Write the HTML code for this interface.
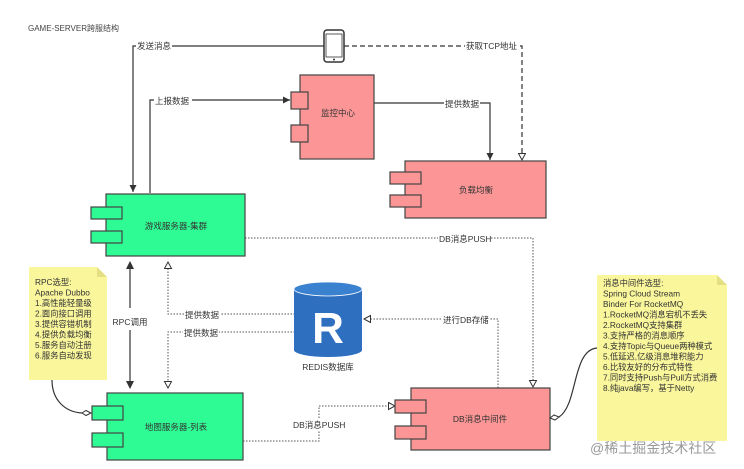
<!DOCTYPE html>
<html><head><meta charset="utf-8"><style>
html,body{margin:0;padding:0;background:#fff;}
svg{display:block;font-family:"Liberation Sans","Noto Sans CJK SC",sans-serif;}
.t{font-size:8.5px;fill:#333;}
.c{font-size:8.5px;fill:#333;text-anchor:middle;}
.n{font-size:8.3px;fill:#333;}
</style></head><body>
<svg width="744" height="469" viewBox="0 0 744 469" xmlns="http://www.w3.org/2000/svg">
<defs>
<marker id="fa" markerWidth="8" markerHeight="8" refX="7" refY="4" orient="auto" markerUnits="userSpaceOnUse"><path d="M0,0.5 L7,4 L0,7.5 Z" fill="#333"/></marker>
<marker id="ha" markerWidth="9" markerHeight="9" refX="7" refY="4" orient="auto" markerUnits="userSpaceOnUse"><path d="M0.5,0.5 L7,4 L0.5,7.5 Z" fill="#fff" stroke="#333" stroke-width="1"/></marker>
</defs>
<text x="28" y="31" style="font-size:8px;fill:#444">GAME-SERVER跨服结构</text>

<rect x="324" y="30" width="20" height="32" rx="3" fill="#fff" stroke="#333" stroke-width="1.5"/>
<rect x="326" y="34" width="16" height="23" fill="#fff" stroke="#333" stroke-width="0.8"/>
<circle cx="334" cy="59.5" r="1" fill="#333"/>

<path d="M324,46 H133 V192" fill="none" stroke="#333" stroke-width="1.2" marker-end="url(#fa)"/>
<rect x="136" y="40" width="36" height="11" fill="#fff"/>
<text x="137" y="49" class="t">发送消息</text>
<path d="M344,46 H522 V160" fill="none" stroke="#333" stroke-width="1.2" stroke-dasharray="5,3" marker-end="url(#ha)"/>
<rect x="465" y="40" width="52" height="11" fill="#fff"/>
<text x="466" y="49" class="t">获取TCP地址</text>
<path d="M150,193 H150 V100 H290" fill="none" stroke="#333" stroke-width="1.2" marker-end="url(#fa)"/>
<rect x="154" y="95" width="38" height="11" fill="#fff"/>
<text x="155" y="104" class="t">上报数据</text>
<path d="M374,103 H490 V160" fill="none" stroke="#333" stroke-width="1.2" marker-end="url(#fa)"/>
<rect x="444" y="98" width="36" height="11" fill="#fff"/>
<text x="445" y="107" class="t">提供数据</text>

<rect x="300" y="75" width="74" height="84" fill="#fc9696" stroke="#444" stroke-width="1.2"/>
<rect x="291" y="92" width="17" height="17" fill="#fc9696" stroke="#444" stroke-width="1.2"/>
<rect x="291" y="125" width="17" height="17" fill="#fc9696" stroke="#444" stroke-width="1.2"/>
<text x="338" y="116" class="c">监控中心</text>

<rect x="405" y="161" width="141" height="57" fill="#fc9696" stroke="#444" stroke-width="1.2"/>
<rect x="390" y="172" width="31" height="12" fill="#fc9696" stroke="#444" stroke-width="1.2"/>
<rect x="390" y="195" width="31" height="12" fill="#fc9696" stroke="#444" stroke-width="1.2"/>
<text x="476" y="193" class="c">负载均衡</text>

<path d="M245,238 H533 V387" fill="none" stroke="#555" stroke-width="1" stroke-dasharray="1.5,1.5" marker-end="url(#ha)"/>
<rect x="438" y="233" width="52" height="11" fill="#fff"/>
<text x="439" y="242" class="t">DB消息PUSH</text>

<rect x="106" y="194" width="139" height="62" fill="#2ffb94" stroke="#444" stroke-width="1.2"/>
<rect x="91" y="207" width="31" height="12" fill="#2ffb94" stroke="#444" stroke-width="1.2"/>
<rect x="91" y="231" width="31" height="12" fill="#2ffb94" stroke="#444" stroke-width="1.2"/>
<text x="176" y="229" class="c">游戏服务器-集群</text>

<path d="M130,262 V388" fill="none" stroke="#333" stroke-width="1.2"/>
<path d="M126,269 L130,261 L134,269 Z M126,381 L130,389 L134,381 Z" fill="#333"/>
<rect x="110" y="308" width="40" height="22" fill="#fff"/>
<text x="130" y="325" class="c">RPC调用</text>

<path d="M295,314 H168 V262" fill="none" stroke="#555" stroke-width="1" stroke-dasharray="1.5,1.5" marker-end="url(#ha)"/>
<path d="M295,332 H168 V388" fill="none" stroke="#555" stroke-width="1" stroke-dasharray="1.5,1.5" marker-end="url(#ha)"/>
<rect x="184" y="309" width="36" height="11" fill="#fff"/>
<text x="185" y="318" class="t">提供数据</text>
<rect x="183" y="327" width="36" height="11" fill="#fff"/>
<text x="184" y="336" class="t">提供数据</text>
<path d="M498,388 V319 H364" fill="none" stroke="#555" stroke-width="1" stroke-dasharray="1.5,1.5" marker-end="url(#ha)"/>
<rect x="442" y="314" width="48" height="11" fill="#fff"/>
<text x="443" y="323" class="t">进行DB存储</text>

<path d="M294,289 V350 A34,7 0 0 0 362,350 V289 Z" fill="#2e6fbf"/>
<ellipse cx="328" cy="289" rx="34" ry="7" fill="#3a82d0" stroke="#fff" stroke-width="0.8"/>
<text x="328" y="343" style="font-size:44px;font-weight:bold;fill:#fff;text-anchor:middle">R</text>
<text x="328" y="370" class="c">REDIS数据库</text>

<path d="M243,441 H319 V406 H395" fill="none" stroke="#555" stroke-width="1" stroke-dasharray="1.5,1.5" marker-end="url(#ha)"/>
<rect x="292" y="419" width="54" height="11" fill="#fff"/>
<text x="293" y="428" class="t">DB消息PUSH</text>

<rect x="107" y="393" width="136" height="67" fill="#2ffb94" stroke="#444" stroke-width="1.2"/>
<rect x="92" y="406" width="31" height="14" fill="#2ffb94" stroke="#444" stroke-width="1.2"/>
<rect x="92" y="433" width="31" height="14" fill="#2ffb94" stroke="#444" stroke-width="1.2"/>
<text x="176" y="430" class="c">地图服务器-列表</text>

<rect x="411" y="388" width="139" height="62" fill="#fc9696" stroke="#444" stroke-width="1.2"/>
<rect x="395" y="400" width="31" height="13" fill="#fc9696" stroke="#444" stroke-width="1.2"/>
<rect x="395" y="426" width="31" height="13" fill="#fc9696" stroke="#444" stroke-width="1.2"/>
<text x="480" y="422" class="c">DB消息中间件</text>

<path d="M29,267 H97 L107,277 V380 H29 Z" fill="#f9f69c"/>
<path d="M97,267 V277 H107 Z" fill="#e3df82"/>
<text x="35" y="285" class="n">RPC选型:</text>
<text x="35" y="295.5" class="n">Apache Dubbo</text>
<text x="35" y="306" class="n">1.高性能轻量级</text>
<text x="35" y="316.5" class="n">2.面向接口调用</text>
<text x="35" y="327" class="n">3.提供容错机制</text>
<text x="35" y="337.5" class="n">4.提供负载均衡</text>
<text x="35" y="348" class="n">5.服务自动注册</text>
<text x="35" y="358.5" class="n">6.服务自动发现</text>
<path d="M52,380 C52,400 65,412 82,413" fill="none" stroke="#333" stroke-width="1.2"/>
<path d="M82,413 L86,410.5 L91,413 L86,415.5 Z" fill="#fff" stroke="#333" stroke-width="1"/>

<path d="M597,275 H717 L727,285 V441 H597 Z" fill="#f9f69c"/>
<path d="M717,275 V285 H727 Z" fill="#e3df82"/>
<text x="603" y="286" class="n">消息中间件选型:</text>
<text x="603" y="296.5" class="n">Spring Cloud Stream</text>
<text x="603" y="307" class="n">Binder For RocketMQ</text>
<text x="603" y="317.5" class="n">1.RocketMQ消息宕机不丢失</text>
<text x="603" y="328" class="n">2.RocketMQ支持集群</text>
<text x="603" y="338.5" class="n">3.支持严格的消息顺序</text>
<text x="603" y="349" class="n">4.支持Topic与Queue两种模式</text>
<text x="603" y="359.5" class="n">5.低延迟,亿级消息堆积能力</text>
<text x="603" y="370" class="n">6.比较友好的分布式特性</text>
<text x="603" y="380.5" class="n">7.同时支持Push与Pull方式消费</text>
<text x="603" y="391" class="n">8.纯java编写，基于Netty</text>
<path d="M559,417 C578,405 572,350 597,348" fill="none" stroke="#333" stroke-width="1.2"/>
<path d="M550,418 L554,415 L559,417 L555,420 Z" fill="#fff" stroke="#333" stroke-width="1"/>

<text x="590" y="453" style="font-size:14px;fill:#999;">@稀土掘金技术社区</text>
</svg>
</body></html>
